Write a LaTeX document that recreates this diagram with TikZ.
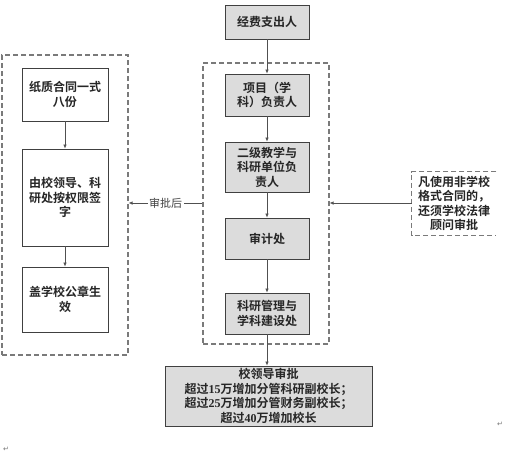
\documentclass[tikz,border=0pt]{standalone}
\usepackage{fontspec}
\usetikzlibrary{arrows.meta}
\newfontfamily\cjkb{Noto Sans CJK SC Bold}
\newfontfamily\cjkr{Noto Sans CJK SC}
\newfontfamily\latb{Liberation Serif}
\newfontfamily\symf{DejaVu Sans}
\definecolor{boxfill}{HTML}{DCDCDC}
\definecolor{boxline}{HTML}{404040}
\definecolor{dashcol}{HTML}{7A7A7A}
\definecolor{arrcol}{HTML}{505050}
\newcommand{\dg}[1]{{\latb\bfseries #1}}
\tikzset{
  box/.style={draw=boxline, line width=0.8pt, inner sep=0pt, align=center,
    font=\cjkb\fontsize{12}{14.5}\selectfont, text=black!85},
  graybox/.style={box, fill=boxfill},
  group/.style={draw=dashcol, dash pattern=on 5pt off 3pt, line width=1.1pt},
  arr/.style={draw=arrcol, line width=0.7pt, -{Latex[length=4pt,width=3.5pt]}},
  pmark/.style={font=\symf\fontsize{7}{8}\selectfont, text=black!55, inner sep=0pt}
}
\begin{document}
\begin{tikzpicture}[x=1pt,y=-1pt]
\useasboundingbox (0,0) rectangle (520,459);
% groups
\node[group, minimum width=126pt, minimum height=300pt, inner sep=0pt] (lg) at (65,205) {};
\node[group, minimum width=126pt, minimum height=281pt, inner sep=0pt] (rg) at (266,203.5) {};
% right column
\node[graybox, minimum width=84pt, minimum height=34pt] (jf) at (267,22) {经费支出人};
\node[graybox, minimum width=84pt, minimum height=42pt] (p1) at (267,95) {项目（学\\科）负责人};
\node[graybox, minimum width=84pt, minimum height=50pt] (p2) at (267,167) {二级教学与\\科研单位负\\责人};
\node[graybox, minimum width=84pt, minimum height=41pt] (p3) at (267,238.5) {审计处};
\node[graybox, minimum width=84pt, minimum height=41pt] (p4) at (267,313.5) {科研管理与\\学科建设处};
\node[graybox, minimum width=207pt, minimum height=60pt] (ld) at (268.5,396)
  {校领导审批\\超过\dg{15}万增加分管科研副校长；\\超过\dg{25}万增加分管财务副校长；\\超过\dg{40}万增加校长};
% left column
\node[box, fill=white, minimum width=86pt, minimum height=53pt] (a) at (65,94.5) {纸质合同一式\\八份};
\node[box, fill=white, minimum width=86pt, minimum height=97pt] (b) at (65,197.5) {由校领导、科\\研处按权限签\\字};
\node[box, fill=white, minimum width=86pt, minimum height=65pt] (c) at (65,299.5) {盖学校公章生\\效};
% note
\node[box, draw=none, minimum width=84pt, minimum height=63pt] (note) at (454,203.5) {凡使用非学校\\格式合同的，\\还须学校法律\\顾问审批};
\draw[group] (note.north east) -- (note.north west) -- (note.south west) -- (note.south east);
% connectors
\draw[arr] (jf) -- (p1);
\draw[arr] (p1) -- (p2);
\draw[arr] (p2) -- (p3);
\draw[arr] (p3) -- (p4);
\draw[arr] (p4.south) -- (p4.south |- ld.north);
\draw[arr] (a) -- (b);
\draw[arr] (b) -- (c);
\coordinate (yl) at (0,203);
\draw[arr] (note.west |- yl) -- (rg.east |- yl);
\draw[arr] (rg.west |- yl) -- node[fill=white, inner sep=1.5pt, font=\cjkr\fontsize{11}{12}\selectfont, text=black!75] {审批后} (lg.east |- yl);
% paragraph marks
\node[pmark] (m1) at (6,449) {↵};
\node[pmark] (m2) at (500,424) {↵};
\end{tikzpicture}
\end{document}
